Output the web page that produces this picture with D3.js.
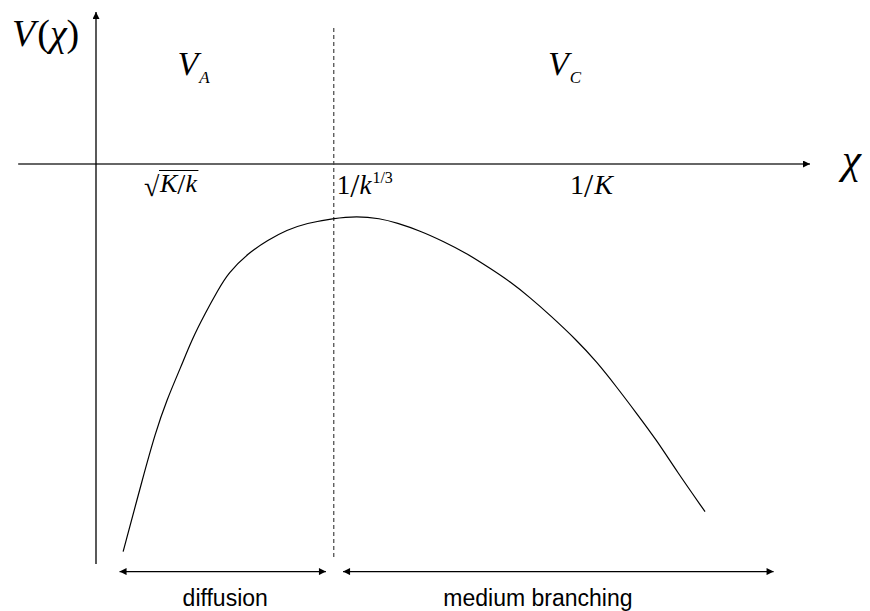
<!DOCTYPE html>
<html>
<head>
<meta charset="utf-8">
<script src="https://cdn.jsdelivr.net/npm/d3@7"></script>
<style>
  body { margin: 0; background: white; }
  .math { font-family: "Liberation Serif", "Times New Roman", serif; fill: #000; }
  .it { font-style: italic; }
  .region-label { font-family: "Liberation Sans", Arial, sans-serif; font-size: 23px; fill: #000; }
</style>
</head>
<body>
<svg id="chart"></svg>
<script>
// Potential curve V(chi) (arbitrary units)
const chiValues = [3.8, 6.6, 8.3, 9.9, 11.9, 13.4, 15.3, 17.1, 18.5, 21.3, 24.1, 26.7, 29.5,
                   33.2, 36.5, 39.8, 42.1, 45.4, 48.6, 51.9, 55.2, 58.0, 60.8, 63.6,
                   67.3, 70.1, 72.9, 75.7, 78.5, 81.3, 85.3];
const vValues = [-96.9, -78.2, -67.3, -59, -50.7, -44, -37.3, -31.5, -27.3, -22.3, -19, -16.5, -14.8,
                 -13.6, -13, -13.6, -14.7, -16.7, -19.3, -22.3, -26.1, -29.4, -33.4, -37.8,
                 -44, -49.4, -55.7, -62.3, -69, -76.7, -86.9];

// crossover point between the two regimes
const crossover = 33.3;

// regions along chi
const regionNames = ["diffusion", "medium branching"];
const regionStart = [3.3, 34.6];
const regionEnd = [32.2, 94.9];
const regionLabelAt = [18.1, 61.9];

const width = 870, height = 611;
const svg = d3.select("#chart").attr("width", width).attr("height", height);

const x = d3.scaleLinear().domain([0, 100]).range([96, 810]);
const y = d3.scaleLinear().domain([0, -100]).range([164, 564]);

// arrow heads
const defs = svg.append("defs");
function arrowMarker(id, orient) {
    defs.append("marker")
        .attr("id", id)
        .attr("viewBox", "0 0 10 10")
        .attr("refX", 10).attr("refY", 5)
        .attr("markerWidth", 9).attr("markerHeight", 7)
        .attr("markerUnits", "userSpaceOnUse")
        .attr("orient", orient)
        .append("path")
        .attr("d", "M0,0 L10,5 L0,10 z")
        .attr("fill", "#000");
}
arrowMarker("head", "auto");
arrowMarker("head2", "auto-start-reverse");

// axes
svg.append("line")
    .attr("x1", x(-10.9)).attr("x2", x(100))
    .attr("y1", y(0)).attr("y2", y(0))
    .attr("stroke", "#333").attr("stroke-width", 1.3)
    .attr("marker-end", "url(#head)");

svg.append("line")
    .attr("x1", x(0)).attr("x2", x(0))
    .attr("y1", y(-100)).attr("y2", y(38))
    .attr("stroke", "#000").attr("stroke-width", 1.3)
    .attr("marker-end", "url(#head)");

// crossover dashed line
svg.append("line")
    .attr("x1", x(crossover)).attr("x2", x(crossover))
    .attr("y1", y(34)).attr("y2", y(-98.3))
    .attr("stroke", "#444").attr("stroke-width", 1.2)
    .attr("stroke-dasharray", "4,3");

// curve
const pts = chiValues.map((c, i) => [c, vValues[i]]);
const line = d3.line()
    .x(d => x(d[0]))
    .y(d => y(d[1]))
    .curve(d3.curveBasis);

svg.append("path")
    .attr("d", line(pts))
    .attr("fill", "none")
    .attr("stroke", "#000")
    .attr("stroke-width", 1.2);

// region arrows + labels
regionNames.forEach((name, i) => {
    svg.append("line")
        .attr("x1", x(regionStart[i])).attr("x2", x(regionEnd[i]))
        .attr("y1", y(-101.9)).attr("y2", y(-101.9))
        .attr("stroke", "#000").attr("stroke-width", 1.3)
        .attr("marker-start", "url(#head2)")
        .attr("marker-end", "url(#head)");
    svg.append("text")
        .attr("class", "region-label")
        .attr("x", x(regionLabelAt[i]))
        .attr("y", 606)
        .attr("text-anchor", "middle")
        .text(name);
});

// V(chi) axis label
const vLabel = svg.append("text").attr("class", "math")
    .attr("x", 12).attr("y", 46).attr("font-size", 38);
vLabel.append("tspan").attr("class", "it").text("V");
vLabel.append("tspan").attr("dx", 2).text("(");
vLabel.append("tspan").attr("class", "it").text("χ");
vLabel.append("tspan").text(")");

// chi axis label
svg.append("text").attr("class", "math it")
    .attr("x", 842).attr("y", 173).attr("font-size", 43)
    .text("χ");

// region potentials
function subLabel(px, sub) {
    const t = svg.append("text").attr("class", "math")
        .attr("x", px).attr("y", 75).attr("font-size", 34);
    t.append("tspan").attr("class", "it").text("V");
    t.append("tspan").attr("class", "it")
        .attr("font-size", 17).attr("dx", 1).attr("dy", 8).text(sub);
}
subLabel(x(11.4), "A");
subLabel(x(63.3), "C");

// tick-like labels on chi axis
// sqrt(K/k)
const rad = svg.append("text").attr("class", "math")
    .attr("x", 144).attr("y", 196).attr("font-size", 28).text("√");
const rb = rad.node().getBBox();
const kk = svg.append("text").attr("class", "math it")
    .attr("x", rb.x + rb.width).attr("y", 192).attr("font-size", 26);
kk.append("tspan").text("K");
kk.append("tspan").attr("font-style", "normal").attr("font-size", 29).attr("dy", 2).text("/");
kk.append("tspan").attr("dy", -2).text("k");
const kb = kk.node().getBBox();
svg.append("line")
    .attr("x1", rb.x + rb.width - 1).attr("x2", kb.x + kb.width + 1)
    .attr("y1", 170.5).attr("y2", 170.5)
    .attr("stroke", "#000").attr("stroke-width", 1.2);

// 1/k^{1/3}
const t13 = svg.append("text").attr("class", "math")
    .attr("x", x(crossover) + 3).attr("y", 194).attr("font-size", 27);
t13.append("tspan").text("1");
t13.append("tspan").attr("font-size", 33).attr("dy", 3).text("/");
t13.append("tspan").attr("class", "it").attr("dy", -3).text("k");
t13.append("tspan").attr("font-size", 16).attr("dy", -11).attr("dx", 1).text("1/3");

// 1/K
const tK = svg.append("text").attr("class", "math")
    .attr("x", 570).attr("y", 194).attr("font-size", 28);
tK.append("tspan").text("1");
tK.append("tspan").attr("font-size", 33).attr("dy", 3).text("/");
tK.append("tspan").attr("class", "it").attr("dy", -3).attr("dx", 1).text("K");
</script>
</body>
</html>
